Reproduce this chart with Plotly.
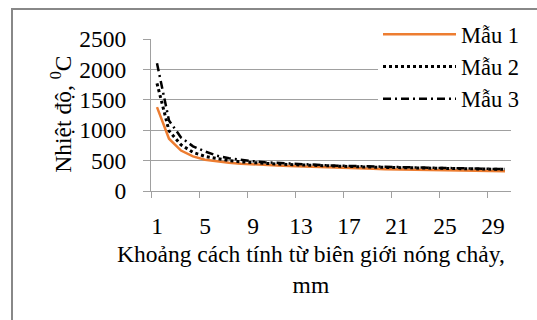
import plotly.graph_objects as go

# ---- data ----
distance_mm = list(range(1, 31))
mau1 = [1380, 860, 665, 570, 515, 485, 465, 450, 437, 427, 419, 411, 403, 396, 390, 383, 376, 369, 364, 359,
        355, 351, 347, 344, 341, 338, 335, 332, 329, 326]
mau2 = [1770, 990, 760, 635, 570, 530, 500, 480, 465, 452, 443, 435, 427, 420, 414, 408, 402, 397, 392, 388,
        385, 382, 379, 376, 373, 370, 367, 364, 360, 356]
mau3 = [2100, 1160, 880, 735, 650, 580, 540, 510, 490, 472, 460, 449, 439, 431, 424, 417, 411, 405, 400, 395,
        391, 387, 384, 381, 378, 375, 372, 368, 364, 360]
series_names = ["Mẫu 1", "Mẫu 2", "Mẫu 3"]
x_tick_labels = [1, 5, 9, 13, 17, 21, 25, 29]
y_ticks = [0, 500, 1000, 1500, 2000, 2500]
y_title = "Nhiệt độ, <sup>0</sup>C"
x_title = "Khoảng cách tính từ biên giới nóng chảy,<br>mm"

FONT = "Liberation Serif"
GRID = "#a0a0a0"

fig = go.Figure()
fig.add_trace(go.Scatter(x=distance_mm, y=mau1, mode="lines", name=series_names[0],
                         line=dict(color="#ED7D31", width=2.5)))
fig.add_trace(go.Scatter(x=distance_mm, y=mau2, mode="lines", name=series_names[1],
                         line=dict(color="black", width=3, dash="dot")))
fig.add_trace(go.Scatter(x=distance_mm, y=mau3, mode="lines", name=series_names[2],
                         line=dict(color="black", width=2.5, dash="8px,4px,2px,4px")))

L, R, T, B = 151, 26, 39, 129
W, H = 537, 320
pw, ph = W - L - R, H - T - B


def px(xp):
    return (xp - L) / pw


def py(yp):
    return (H - B - yp) / ph


fig.update_layout(
    width=W, height=H,
    margin=dict(l=L, r=R, t=T, b=B, autoexpand=False),
    paper_bgcolor="white", plot_bgcolor="white",
    font=dict(family=FONT, size=23.5, color="black"),
    showlegend=True,
    legend=dict(x=px(378), y=py(13), xanchor="left", yanchor="top",
                bgcolor="white", borderwidth=0, font=dict(family=FONT, size=22.5),
                itemwidth=73),
    xaxis=dict(range=[0.5, 30.5], tickmode="array",
               tickvals=[v - 0.5 for v in x_tick_labels],
               ticktext=[str(v) for v in x_tick_labels],
               ticklabelshift=6, ticks="outside", ticklen=6, tickcolor=GRID,
               tickwidth=1.3,
               showgrid=False, showline=True, linecolor=GRID, linewidth=1.3,
               zeroline=False, ticklabelstandoff=8,
               tickfont=dict(family=FONT, size=23.5)),
    yaxis=dict(range=[0, 2500], tickmode="array", tickvals=y_ticks,
               ticks="outside", ticklen=7, tickcolor=GRID, tickwidth=1.3,
               showgrid=True, gridcolor=GRID, gridwidth=1.3,
               showline=True, linecolor=GRID, linewidth=1.3, zeroline=False,
               ticklabelstandoff=12,
               tickfont=dict(family=FONT, size=23.5)),
    shapes=[dict(type="rect", xref="paper", yref="paper",
                 x0=px(12), x1=px(600), y0=py(400), y1=py(9),
                 line=dict(color="#888888", width=2), fillcolor="rgba(0,0,0,0)")],
    annotations=[
        dict(text=y_title, xref="paper", yref="paper", x=px(61), y=py(114.7),
             xanchor="center", yanchor="middle", textangle=-90, showarrow=False,
             font=dict(family=FONT, size=23.5)),
        dict(text=x_title, xref="paper", yref="paper", x=px(311), y=py(269),
             xanchor="center", yanchor="middle", showarrow=False,
             font=dict(family=FONT, size=23.5)),
    ],
)

fig.write_html("out.html", config={"displayModeBar": False},
               post_script="document.body.style.margin='0';document.body.style.padding='0';")
